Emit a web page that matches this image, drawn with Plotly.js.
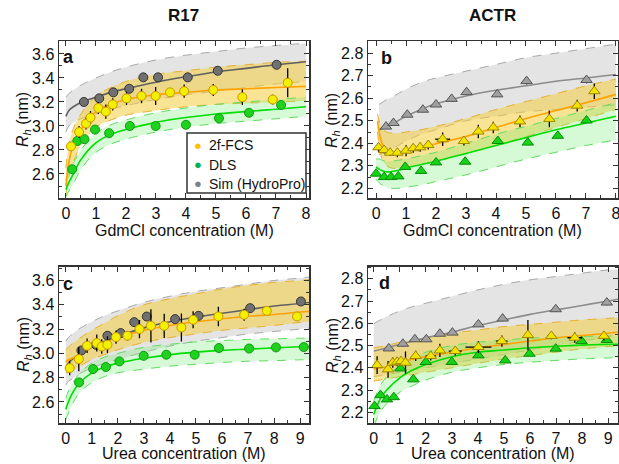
<!DOCTYPE html>
<html><head><meta charset="utf-8">
<script src="https://cdn.plot.ly/plotly-3.0.1.min.js"></script>
<style>html,body{margin:0;padding:0;background:#fff}#chart{width:619px;height:464px}</style>
</head><body><div id="chart"></div>
<script>
// ---------------- Panel a: R17, GdmCl ----------------
const aFitX   = [0, 0.1, 0.25, 0.5, 1, 1.5, 2, 3, 4, 5, 6, 7, 8];
const aSimFit = [3.08, 3.13, 3.16, 3.195, 3.24, 3.28, 3.31, 3.365, 3.41, 3.45, 3.48, 3.51, 3.535];
const aSimUp  = [3.24, 3.27, 3.30, 3.34, 3.40, 3.45, 3.49, 3.55, 3.59, 3.62, 3.65, 3.67, 3.69];
const aSimLo  = [2.95, 3.00, 3.03, 3.06, 3.10, 3.14, 3.17, 3.22, 3.26, 3.29, 3.32, 3.35, 3.37];
const aFcsFit = [2.50, 2.70, 2.85, 2.97, 3.12, 3.18, 3.22, 3.26, 3.28, 3.30, 3.31, 3.32, 3.33];
const aFcsUp  = [2.65, 2.85, 2.98, 3.10, 3.25, 3.32, 3.37, 3.43, 3.46, 3.49, 3.51, 3.53, 3.54];
const aFcsLo  = [2.42, 2.58, 2.70, 2.84, 2.99, 3.05, 3.09, 3.13, 3.16, 3.18, 3.19, 3.20, 3.21];
const aDlsFit = [2.47, 2.53, 2.60, 2.72, 2.86, 2.93, 2.97, 3.03, 3.07, 3.10, 3.12, 3.14, 3.16];
const aDlsUp  = [2.55, 2.62, 2.69, 2.80, 2.94, 3.01, 3.05, 3.11, 3.15, 3.18, 3.20, 3.22, 3.24];
const aDlsLo  = [2.41, 2.46, 2.52, 2.64, 2.78, 2.85, 2.89, 2.95, 2.99, 3.02, 3.04, 3.06, 3.08];
const aFcsX = [0.17, 0.44, 0.67, 0.82, 1.08, 1.33, 1.56, 2.02, 2.52, 2.99, 3.47, 3.94, 4.91, 5.88, 6.89, 7.39];
const aFcsY = [2.83, 2.95, 3.02, 3.07, 3.15, 3.12, 3.18, 3.23, 3.25, 3.25, 3.28, 3.29, 3.30, 3.24, 3.22, 3.36];
const aFcsE = [0.035, 0.05, 0.05, 0.055, 0.05, 0.06, 0.05, 0.055, 0.06, 0.075, 0.035, 0.055, 0.05, 0.065, 0.04, 0.12];
const aDlsX = [0.21, 0.38, 0.62, 0.97, 1.44, 2.13, 2.99, 4.0, 5.1, 6.1, 7.17];
const aDlsY = [2.64, 2.875, 2.89, 2.97, 2.94, 3.0, 3.0, 3.01, 3.064, 3.11, 3.175];
const aSimX = [0.6, 1.11, 1.58, 2.11, 2.58, 3.07, 4.06, 5.06, 7.02];
const aSimY = [3.20, 3.23, 3.28, 3.31, 3.405, 3.405, 3.405, 3.46, 3.51];
const aSimE = [0.02, 0.02, 0.02, 0.02, 0.02, 0.02, 0.02, 0.02, 0.02];

// ---------------- Panel b: ACTR, GdmCl ----------------
const bSimFitX = [0.1, 0.3, 0.6, 1, 1.5, 2, 3, 4, 5, 6, 7, 8];
const bSimFit = [2.46, 2.47, 2.49, 2.52, 2.55, 2.575, 2.61, 2.635, 2.655, 2.675, 2.69, 2.705];
const bSimUp  = [2.572, 2.59, 2.61, 2.64, 2.67, 2.69, 2.72, 2.75, 2.78, 2.80, 2.82, 2.84];
const bSimLo  = [2.35, 2.36, 2.38, 2.41, 2.44, 2.46, 2.50, 2.52, 2.54, 2.55, 2.56, 2.57];
const bFitX   = [0.05, 0.1, 0.2, 0.35, 0.5, 0.75, 1, 1.5, 2, 3, 4, 5, 6, 7, 8];
const bFcsFit = [2.50, 2.45, 2.40, 2.365, 2.358, 2.36, 2.367, 2.38, 2.398, 2.43, 2.47, 2.51, 2.545, 2.58, 2.617];
const bFcsUp  = [2.53, 2.50, 2.465, 2.45, 2.445, 2.445, 2.45, 2.46, 2.475, 2.51, 2.55, 2.585, 2.62, 2.655, 2.685];
const bFcsLo  = [2.45, 2.39, 2.33, 2.30, 2.29, 2.29, 2.295, 2.305, 2.32, 2.355, 2.39, 2.43, 2.47, 2.51, 2.55];
const bDlsFitX = [0, 0.1, 0.2, 0.35, 0.5, 0.75, 1, 1.5, 2, 3, 4, 5, 6, 7, 8];
const bDlsFit = [2.295, 2.285, 2.278, 2.273, 2.274, 2.28, 2.29, 2.305, 2.32, 2.355, 2.39, 2.425, 2.46, 2.49, 2.52];
const bDlsUp  = [2.33, 2.33, 2.325, 2.32, 2.32, 2.325, 2.33, 2.345, 2.36, 2.40, 2.44, 2.475, 2.51, 2.545, 2.58];
const bDlsLo  = [2.24, 2.225, 2.215, 2.205, 2.20, 2.20, 2.205, 2.215, 2.23, 2.26, 2.295, 2.33, 2.36, 2.39, 2.415];
const bFcsX = [0.08, 0.27, 0.47, 0.71, 1.0, 1.24, 1.47, 1.74, 2.22, 2.93, 3.41, 3.91, 4.8, 5.78, 6.71, 7.28];
const bFcsY = [2.382, 2.37, 2.358, 2.358, 2.367, 2.378, 2.382, 2.392, 2.418, 2.41, 2.452, 2.47, 2.497, 2.508, 2.567, 2.631];
const bFcsE = [0.02, 0.015, 0.015, 0.02, 0.025, 0.02, 0.02, 0.02, 0.03, 0.02, 0.03, 0.025, 0.026, 0.037, 0.026, 0.034];
const bFcsEx = [0.05, 0.05, 0.05, 0.05, 0.05, 0.05, 0.05, 0.05, 0.25, 0.05, 0.05, 0.05, 0.05, 0.05, 0.05, 0.05];
const bDlsX = [0, 0.27, 0.5, 0.74, 0.97, 1.5, 2.0, 2.97, 4.06, 5.06, 6.06, 7.02];
const bDlsY = [2.265, 2.25, 2.25, 2.253, 2.295, 2.277, 2.315, 2.318, 2.41, 2.403, 2.433, 2.501];
const bSimX = [0.33, 0.58, 1.04, 1.56, 2.0, 2.52, 3.02, 4.04, 5.02, 7.02];
const bSimY = [2.474, 2.49, 2.527, 2.549, 2.572, 2.597, 2.627, 2.617, 2.676, 2.681];
const bSimE = [0.01, 0.01, 0.01, 0.01, 0.01, 0.01, 0.01, 0.012, 0.015, 0.015];

// ---------------- Panel c: R17, Urea ----------------
const cFitX   = [0, 0.1, 0.25, 0.5, 1, 1.5, 2, 3, 4, 5, 6, 7, 8, 9, 9.4];
const cSimFit = [2.88, 2.92, 2.95, 2.99, 3.05, 3.10, 3.14, 3.21, 3.26, 3.30, 3.33, 3.36, 3.39, 3.41, 3.42];
const cSimUp  = [3.10, 3.13, 3.16, 3.20, 3.26, 3.31, 3.35, 3.42, 3.47, 3.51, 3.54, 3.57, 3.60, 3.62, 3.63];
const cSimLo  = [2.74, 2.77, 2.79, 2.83, 2.88, 2.92, 2.95, 3.01, 3.06, 3.10, 3.13, 3.16, 3.18, 3.20, 3.21];
const cFcsFit = [2.93, 2.945, 2.96, 2.99, 3.05, 3.09, 3.13, 3.19, 3.23, 3.26, 3.285, 3.305, 3.32, 3.34, 3.345];
const cFcsUp  = [3.03, 3.05, 3.08, 3.12, 3.19, 3.25, 3.31, 3.40, 3.45, 3.49, 3.53, 3.56, 3.585, 3.60, 3.61];
const cFcsLo  = [2.84, 2.85, 2.86, 2.89, 2.95, 2.99, 3.03, 3.09, 3.13, 3.16, 3.19, 3.21, 3.23, 3.255, 3.26];
const cDlsFit = [2.54, 2.60, 2.67, 2.75, 2.84, 2.89, 2.92, 2.96, 2.99, 3.01, 3.025, 3.035, 3.045, 3.055, 3.057];
const cDlsUp  = [2.63, 2.69, 2.75, 2.83, 2.92, 2.97, 3.00, 3.05, 3.075, 3.095, 3.105, 3.115, 3.12, 3.125, 3.126];
const cDlsLo  = [2.455, 2.51, 2.58, 2.67, 2.76, 2.81, 2.84, 2.87, 2.895, 2.91, 2.925, 2.935, 2.94, 2.947, 2.948];
const cFcsX = [0.15, 0.5, 0.82, 1.19, 1.38, 1.6, 1.93, 2.37, 2.83, 3.27, 3.78, 4.44, 4.89, 5.86, 6.85, 7.72, 8.88];
const cFcsY = [2.879, 2.953, 3.063, 3.085, 3.057, 3.071, 3.134, 3.145, 3.2, 3.227, 3.227, 3.213, 3.276, 3.304, 3.318, 3.35, 3.304];
const cFcsE = [0.06, 0.1, 0.06, 0.07, 0.06, 0.07, 0.055, 0.04, 0.075, 0.137, 0.1, 0.116, 0.07, 0.08, 0.05, 0.02, 0.03];
const cDlsX = [0.51, 1.05, 1.54, 2.06, 2.99, 3.86, 4.95, 5.88, 7.04, 8.07, 9.14];
const cDlsY = [2.761, 2.871, 2.888, 2.934, 2.98, 2.989, 2.989, 3.044, 3.04, 3.049, 3.052];
const cDlsE = [0.025, 0.025, 0.01, 0.01, 0.01, 0.01, 0.01, 0.01, 0.02, 0.01, 0.01];
const cSimX = [0.6, 1.16, 1.6, 2.11, 2.63, 3.11, 4.2, 5.1, 7.08, 9.03];
const cSimY = [3.024, 3.071, 3.145, 3.167, 3.257, 3.303, 3.282, 3.309, 3.372, 3.427];

// ---------------- Panel d: ACTR, Urea ----------------
const dFitX   = [0, 0.25, 0.5, 1, 1.5, 2, 3, 4, 5, 6, 7, 8, 9, 9.4];
const dSimFit = [2.475, 2.482, 2.49, 2.505, 2.52, 2.535, 2.56, 2.59, 2.615, 2.64, 2.66, 2.68, 2.70, 2.708];
const dSimUp  = [2.598, 2.615, 2.63, 2.655, 2.675, 2.69, 2.72, 2.75, 2.775, 2.795, 2.81, 2.825, 2.84, 2.843];
const dSimLo  = [2.36, 2.365, 2.37, 2.38, 2.39, 2.40, 2.42, 2.44, 2.46, 2.48, 2.50, 2.52, 2.54, 2.55];
const dFcsFit = [2.395, 2.40, 2.405, 2.425, 2.438, 2.45, 2.47, 2.49, 2.505, 2.52, 2.535, 2.545, 2.555, 2.561];
const dFcsUp  = [2.49, 2.495, 2.50, 2.515, 2.525, 2.535, 2.555, 2.57, 2.585, 2.595, 2.605, 2.615, 2.622, 2.625];
const dFcsLo  = [2.34, 2.345, 2.35, 2.36, 2.37, 2.38, 2.40, 2.42, 2.44, 2.455, 2.47, 2.485, 2.495, 2.50];
const dDlsFit = [2.19, 2.26, 2.30, 2.355, 2.39, 2.415, 2.45, 2.47, 2.48, 2.49, 2.497, 2.502, 2.505, 2.506];
const dDlsUp  = [2.25, 2.32, 2.36, 2.41, 2.445, 2.47, 2.50, 2.515, 2.525, 2.533, 2.538, 2.541, 2.543, 2.543];
const dDlsLo  = [2.14, 2.20, 2.24, 2.29, 2.32, 2.345, 2.38, 2.40, 2.415, 2.425, 2.433, 2.44, 2.444, 2.445];
const dFcsX = [0.13, 0.55, 0.73, 0.9, 1.05, 1.22, 1.61, 2.19, 2.54, 3.13, 4.02, 4.92, 5.92, 6.82, 7.72, 8.84];
const dFcsY = [2.412, 2.393, 2.423, 2.427, 2.43, 2.423, 2.453, 2.453, 2.478, 2.475, 2.493, 2.52, 2.547, 2.543, 2.535, 2.543];
const dFcsE = [0.04, 0.038, 0.023, 0.02, 0.02, 0.05, 0.023, 0.02, 0.03, 0.02, 0.026, 0.025, 0.068, 0.015, 0.023, 0.02];
const dFcsEx = [0.1, 0.1, 0.08, 0.08, 0.08, 0.1, 0.1, 0.2, 0.1, 0.25, 0.5, 0.22, 0.1, 0.15, 0.28, 0.15];
const dDlsX = [0.03, 0.26, 0.51, 0.77, 1.03, 1.52, 2.0, 3.0, 4.02, 5.05, 5.98, 6.99, 7.98, 8.95];
const dDlsY = [2.228, 2.277, 2.258, 2.268, 2.397, 2.348, 2.426, 2.426, 2.456, 2.433, 2.463, 2.486, 2.52, 2.525];
const dSimX = [0.58, 1.12, 1.58, 2.02, 2.54, 3.02, 4.02, 4.95, 6.99, 8.95];
const dSimY = [2.487, 2.508, 2.528, 2.528, 2.553, 2.558, 2.595, 2.621, 2.663, 2.693];
const dSimE = [0.01, 0.01, 0.01, 0.01, 0.01, 0.01, 0.012, 0.012, 0.012, 0.012];

const legendNames = ['2f-FCS', 'DLS', 'Sim (HydroPro)'];
const legendColors = ['#ffc000', '#00b050', '#808080'];
const panelTitles = ['R17', 'ACTR'];
const panelLetters = ['a', 'b', 'c', 'd'];
const xTitles = ['GdmCl concentration (M)', 'Urea concentration (M)'];

// ---------------- styles ----------------
const C = {
  grayFill: 'rgba(210,210,210,0.6)', grayDash: '#a8a8a8', grayLine: '#606060', grayLineB: '#8c8c8c',
  yelFill: 'rgba(242,205,60,0.55)', yelDash: '#e8b030', orange: '#ffa200',
  grnFill: 'rgba(120,235,120,0.3)', grnDash: '#60dd60', green: '#00dd00'
};
const traces = [];
function band(ax, x, lo, up, fill, dash) {
  traces.push({x: x, y: lo, xaxis: 'x' + ax, yaxis: 'y' + ax, mode: 'lines', showlegend: false, hoverinfo: 'skip',
    line: {color: dash, width: 1, dash: 'dash', shape: 'spline'}});
  traces.push({x: x, y: up, xaxis: 'x' + ax, yaxis: 'y' + ax, mode: 'lines', showlegend: false, hoverinfo: 'skip',
    fill: 'tonexty', fillcolor: fill, line: {color: dash, width: 1, dash: 'dash', shape: 'spline'}});
}
function curve(ax, x, y, color, w) {
  traces.push({x: x, y: y, xaxis: 'x' + ax, yaxis: 'y' + ax, mode: 'lines', showlegend: false, hoverinfo: 'skip',
    line: {color: color, width: w || 1.6, shape: 'spline'}});
}
function pts(ax, x, y, ey, ex, sym, size, fill, edge) {
  const t = {x: x, y: y, xaxis: 'x' + ax, yaxis: 'y' + ax, mode: 'markers', showlegend: false,
    marker: {symbol: sym, size: size, color: fill, line: {color: edge, width: 1}}};
  if (ey) t.error_y = {type: 'data', array: ey, visible: true, color: '#000', thickness: 1.3, width: 0};
  if (ex) t.error_x = {type: 'data', array: ex, visible: true, color: '#000', thickness: 1.3, width: 0};
  traces.push(t);
}
const sm = (arr, v) => arr.map(() => v);

// Panel a
band('', aFitX, aSimLo, aSimUp, C.grayFill, C.grayDash);
band('', aFitX, aFcsLo, aFcsUp, C.yelFill, C.yelDash);
band('', aFitX, aDlsLo, aDlsUp, C.grnFill, C.grnDash);
curve('', aFitX, aSimFit, C.grayLine);
curve('', aFitX, aFcsFit, C.orange);
curve('', aFitX, aDlsFit, C.green);
pts('', aSimX, aSimY, aSimE, null, 'circle', 9, '#707070', '#333');
pts('', aDlsX, aDlsY, null, null, 'circle', 9, '#1ed21e', '#119911');
pts('', aFcsX, aFcsY, aFcsE, sm(aFcsX, 0.1), 'circle', 9, '#f2f000', '#c89600');
// Panel b
band('2', bSimFitX, bSimLo, bSimUp, C.grayFill, C.grayDash);
band('2', bFitX, bFcsLo, bFcsUp, C.yelFill, C.yelDash);
band('2', bDlsFitX, bDlsLo, bDlsUp, C.grnFill, C.grnDash);
curve('2', bSimFitX, bSimFit, C.grayLineB);
curve('2', bFitX, bFcsFit, C.orange);
curve('2', bDlsFitX, bDlsFit, C.green);
pts('2', bSimX, bSimY, bSimE, null, 'triangle-up', 10, '#a0a0a0', '#555');
pts('2', bDlsX, bDlsY, null, null, 'triangle-up', 10, '#14d214', '#0a8a0a');
pts('2', bFcsX, bFcsY, bFcsE, bFcsEx, 'triangle-up', 10, '#f0e400', '#a08800');
// Panel c
band('3', cFitX, cSimLo, cSimUp, C.grayFill, C.grayDash);
band('3', cFitX, cFcsLo, cFcsUp, C.yelFill, C.yelDash);
band('3', cFitX, cDlsLo, cDlsUp, C.grnFill, C.grnDash);
curve('3', cFitX, cSimFit, C.grayLine);
curve('3', cFitX, cFcsFit, C.orange);
curve('3', cFitX, cDlsFit, C.green);
pts('3', cSimX, cSimY, sm(cSimX, 0.02), null, 'circle', 9, '#707070', '#333');
pts('3', cDlsX, cDlsY, cDlsE, sm(cDlsX, 0.08), 'circle', 9, '#1ed21e', '#119911');
pts('3', cFcsX, cFcsY, cFcsE, sm(cFcsX, 0.12), 'circle', 9, '#f2f000', '#c89600');
// Panel d
band('4', dFitX, dSimLo, dSimUp, C.grayFill, C.grayDash);
band('4', dFitX, dFcsLo, dFcsUp, C.yelFill, C.yelDash);
band('4', dFitX, dDlsLo, dDlsUp, C.grnFill, C.grnDash);
curve('4', dFitX, dSimFit, C.grayLineB);
curve('4', dFitX, dFcsFit, C.orange);
curve('4', dFitX, dDlsFit, C.green);
pts('4', dSimX, dSimY, dSimE, null, 'triangle-up', 10, '#a0a0a0', '#555');
pts('4', dDlsX, dDlsY, null, null, 'triangle-up', 10, '#14d214', '#0a8a0a');
pts('4', dFcsX, dFcsY, dFcsE, dFcsEx, 'triangle-up', 10, '#f0e400', '#a08800');

const FONT = 'Arial, "Liberation Sans", sans-serif';
function xa(dom, range, anchor, maxv) {
  return {domain: dom, range: range, anchor: anchor, tickvals: Array.from({length: maxv + 1}, (_, i) => i),
    ticks: 'inside', ticklen: 5, tickwidth: 1, tickcolor: '#333', showline: true, linecolor: '#333', linewidth: 1.5,
    mirror: 'allticks', showgrid: false, zeroline: false, ticklabeloverflow: 'allow',
    tickfont: {family: FONT, size: 16, color: '#111'},
    minor: {dtick: 0.5, ticks: 'inside', ticklen: 3, tickcolor: '#333', showgrid: false}};
}
function ya(dom, range, anchor, tv, mdt) {
  return {domain: dom, range: range, anchor: anchor, tickvals: tv, tickformat: '.1f',
    ticks: 'inside', ticklen: 5, tickwidth: 1, tickcolor: '#333', showline: true, linecolor: '#333', linewidth: 1.5,
    mirror: 'allticks', showgrid: false, zeroline: false, tickfont: {family: FONT, size: 16, color: '#111'},
    minor: {dtick: mdt, ticks: 'inside', ticklen: 3, tickcolor: '#333', showgrid: false}};
}
const W = 619, H = 464;
const px = v => v / W, py = v => 1 - v / H;
const dxL = [px(59), px(309)], dxR = [px(368), px(618)];
const dyT = [py(198), py(41)], dyB = [py(423), py(266.5)];
const tvR17 = [2.6, 2.8, 3.0, 3.2, 3.4, 3.6];
const tvACTR = [2.2, 2.3, 2.4, 2.5, 2.6, 2.7, 2.8];

const ann = [];
const A = (x, y, text, size, bold, extra) => ann.push(Object.assign({xref: 'paper', yref: 'paper', x: px(x), y: py(y),
  text: bold ? '<b>' + text + '</b>' : text, showarrow: false, xanchor: 'center', yanchor: 'middle',
  font: {family: FONT, size: size, color: '#111'}}, extra || {}));
A(183, 15, panelTitles[0], 17, true);
A(493, 15, panelTitles[1], 17, true);
A(184, 230, xTitles[0], 16, false);
A(493, 230, xTitles[0], 16, false);
A(184, 453, xTitles[1], 16, false);
A(493, 453, xTitles[1], 16, false);
const yT = '<i>R</i><sub><i>h</i></sub> (nm)';
A(24, 120, yT, 16, false, {textangle: -90});
A(333, 120, yT, 16, false, {textangle: -90});
A(24, 345, yT, 16, false, {textangle: -90});
A(333, 345, yT, 16, false, {textangle: -90});
A(68, 57, panelLetters[0], 18, true);
A(386, 58, panelLetters[1], 18, true);
A(68, 284, panelLetters[2], 18, true);
A(384, 283, panelLetters[3], 18, true);
// legend (drawn as a boxed list inside panel a)
const legY = [145, 164.5, 183.5];
legendNames.forEach((n, i) => {
  A(198, legY[i], '<span style="color:' + legendColors[i] + '">●</span>', 13, false);
  A(207, legY[i], n, 14, false, {xanchor: 'left'});
});

const layout = {
  width: W, height: H, margin: {l: 0, r: 0, t: 0, b: 0}, paper_bgcolor: '#fff', plot_bgcolor: '#fff',
  font: {family: FONT, color: '#111'},
  xaxis: xa(dxL, [-0.23, 8.1], 'y', 8), yaxis: ya(dyT, [2.4, 3.708], 'x', tvR17, 0.1),
  xaxis2: xa(dxR, [-0.27, 8.07], 'y2', 8), yaxis2: ya(dyT, [2.157, 2.854], 'x2', tvACTR, 0.05),
  xaxis3: xa(dxL, [-0.26, 9.34], 'y3', 9), yaxis3: ya(dyB, [2.427, 3.715], 'x3', tvR17, 0.1),
  xaxis4: xa(dxR, [-0.22, 9.38], 'y4', 9), yaxis4: ya(dyB, [2.152, 2.855], 'x4', tvACTR, 0.05),
  showlegend: false,
  shapes: [{type: 'rect', xref: 'paper', yref: 'paper', x0: px(187), x1: px(306), y0: py(193), y1: py(133),
    line: {color: '#333', width: 1.5}, fillcolor: '#fff', layer: 'above'}],
  annotations: ann
};
Plotly.newPlot('chart', traces, layout, {staticPlot: true, displayModeBar: false});
</script></body></html>
